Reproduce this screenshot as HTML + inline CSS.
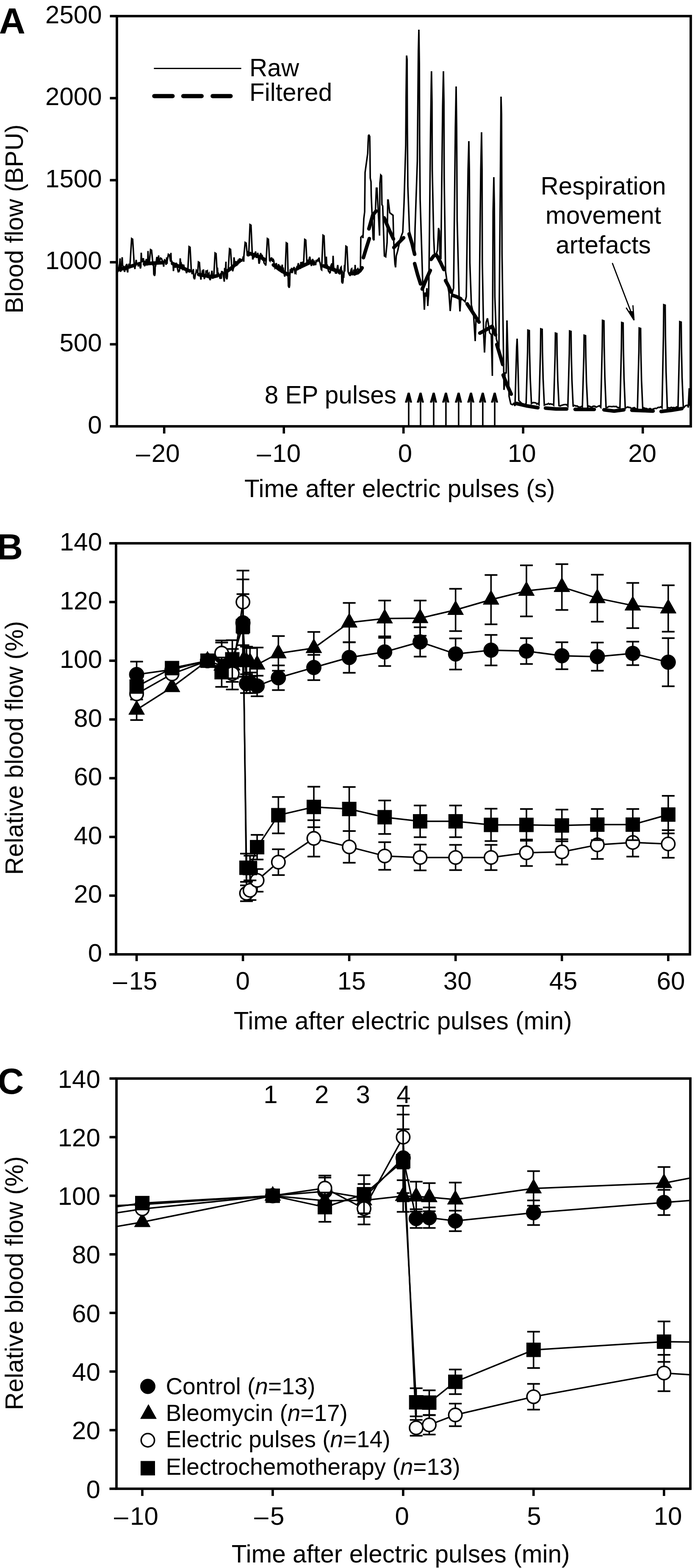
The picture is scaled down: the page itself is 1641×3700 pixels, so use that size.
<!DOCTYPE html>
<html><head><meta charset="utf-8"><title>Blood flow figure</title>
<style>html,body{margin:0;padding:0;background:#fff;} svg{display:block;} text{font-family:'Liberation Sans', Arial, Helvetica, sans-serif;fill:#000;stroke:none;}</style>
</head><body>
<svg width="1641" height="3700" viewBox="0 0 1641 3700" stroke="#000" fill="#000">
<rect x="0" y="0" width="1641" height="3700" fill="#fff" stroke="none"/>
<g id="panelA">
<line x1="259.5" y1="1006" x2="276" y2="1006" stroke-width="5.8" stroke-linecap="butt"/>
<line x1="259.5" y1="812.4" x2="276" y2="812.4" stroke-width="5.8" stroke-linecap="butt"/>
<line x1="259.5" y1="618.8" x2="276" y2="618.8" stroke-width="5.8" stroke-linecap="butt"/>
<line x1="259.5" y1="425.2" x2="276" y2="425.2" stroke-width="5.8" stroke-linecap="butt"/>
<line x1="259.5" y1="231.6" x2="276" y2="231.6" stroke-width="5.8" stroke-linecap="butt"/>
<line x1="259.5" y1="38" x2="276" y2="38" stroke-width="5.8" stroke-linecap="butt"/>
<text x="240.6" y="1022.6" font-size="60" text-anchor="end">0</text>
<text x="240.6" y="829" font-size="60" text-anchor="end">500</text>
<text x="240.6" y="635.4" font-size="60" text-anchor="end">1000</text>
<text x="240.6" y="441.8" font-size="60" text-anchor="end">1500</text>
<text x="240.6" y="248.2" font-size="60" text-anchor="end">2000</text>
<text x="240.6" y="54.6" font-size="60" text-anchor="end">2500</text>
<line x1="387.7" y1="1006" x2="387.7" y2="1023" stroke-width="5.6" stroke-linecap="butt"/>
<line x1="670.2" y1="1006" x2="670.2" y2="1023" stroke-width="5.6" stroke-linecap="butt"/>
<line x1="952.7" y1="1006" x2="952.7" y2="1023" stroke-width="5.6" stroke-linecap="butt"/>
<line x1="1235.2" y1="1006" x2="1235.2" y2="1023" stroke-width="5.6" stroke-linecap="butt"/>
<line x1="1517.7" y1="1006" x2="1517.7" y2="1023" stroke-width="5.6" stroke-linecap="butt"/>
<text x="321" y="1089.5" font-size="60">&#8211;<tspan dx="3.4">20</tspan></text>
<text x="606.5" y="1089.5" font-size="60">&#8211;<tspan dx="3.4">10</tspan></text>
<text x="956.5" y="1089.5" font-size="60" text-anchor="middle">0</text>
<text x="1232.2" y="1089.5" font-size="60" text-anchor="middle">10</text>
<text x="1516.6" y="1089.5" font-size="60" text-anchor="middle">20</text>
<text x="576.9" y="1172.5" font-size="58.6">Time after electric pulses (s)</text>
<text transform="translate(54,516.6) rotate(-90)" font-size="58.6" text-anchor="middle">Blood flow (BPU)</text>
<text x="-2.2" y="79" font-size="86" font-weight="bold">A</text>
<line x1="363.4" y1="161.5" x2="569.6" y2="161.5" stroke-width="3.2" stroke-linecap="butt"/>
<line x1="364.3" y1="226.7" x2="407.5" y2="226.7" stroke-width="10" stroke-linecap="round"/>
<line x1="432.8" y1="226.7" x2="476" y2="226.7" stroke-width="10" stroke-linecap="round"/>
<line x1="502.1" y1="226.7" x2="544.5" y2="226.7" stroke-width="10" stroke-linecap="round"/>
<text x="589.1" y="179.7" font-size="58.5">Raw</text>
<text x="589.1" y="237.9" font-size="58.5">Filtered</text>
<text x="1424.5" y="459.1" font-size="58.5" text-anchor="middle">Respiration</text>
<text x="1424.5" y="528.4" font-size="58.5" text-anchor="middle">movement</text>
<text x="1424.5" y="598.4" font-size="58.5" text-anchor="middle">artefacts</text>
<line x1="1446.1" y1="621.6" x2="1496.5" y2="753.5" stroke-width="2.8" stroke-linecap="round"/>
<polyline points="1479,727 1497,755.5 1494.5,721.5" fill="none" stroke-width="2.8" stroke-linejoin="miter" stroke-linecap="round"/>
<path d="M1497,755.5 L1484,734 L1494.8,735 Z"/>
<text x="624.8" y="952.1" font-size="58.5">8 EP pulses</text>
<line x1="965" y1="1004" x2="965" y2="935" stroke-width="3.6" stroke-linecap="butt"/>
<path d="M963,927 L967,927 L972.5,949.5 L968.4,949.5 L966.5,942 L963.5,942 L961.4,949.5 L956.5,949.5 Z"/>
<line x1="993" y1="1004" x2="993" y2="935" stroke-width="3.6" stroke-linecap="butt"/>
<path d="M991,927 L995,927 L1000.5,949.5 L996.4,949.5 L994.5,942 L991.5,942 L989.4,949.5 L984.5,949.5 Z"/>
<line x1="1024" y1="1004" x2="1024" y2="935" stroke-width="3.6" stroke-linecap="butt"/>
<path d="M1022,927 L1026,927 L1031.5,949.5 L1027.4,949.5 L1025.5,942 L1022.5,942 L1020.4,949.5 L1015.5,949.5 Z"/>
<line x1="1052.9" y1="1004" x2="1052.9" y2="935" stroke-width="3.6" stroke-linecap="butt"/>
<path d="M1050.9,927 L1054.9,927 L1060.4,949.5 L1056.3,949.5 L1054.4,942 L1051.4,942 L1049.3,949.5 L1044.4,949.5 Z"/>
<line x1="1082.9" y1="1004" x2="1082.9" y2="935" stroke-width="3.6" stroke-linecap="butt"/>
<path d="M1080.9,927 L1084.9,927 L1090.4,949.5 L1086.3,949.5 L1084.4,942 L1081.4,942 L1079.3,949.5 L1074.4,949.5 Z"/>
<line x1="1112.1" y1="1004" x2="1112.1" y2="935" stroke-width="3.6" stroke-linecap="butt"/>
<path d="M1110.1,927 L1114.1,927 L1119.6,949.5 L1115.5,949.5 L1113.6,942 L1110.6,942 L1108.5,949.5 L1103.6,949.5 Z"/>
<line x1="1139.9" y1="1004" x2="1139.9" y2="935" stroke-width="3.6" stroke-linecap="butt"/>
<path d="M1137.9,927 L1141.9,927 L1147.4,949.5 L1143.3,949.5 L1141.4,942 L1138.4,942 L1136.3,949.5 L1131.4,949.5 Z"/>
<line x1="1168.1" y1="1004" x2="1168.1" y2="935" stroke-width="3.6" stroke-linecap="butt"/>
<path d="M1166.1,927 L1170.1,927 L1175.6,949.5 L1171.5,949.5 L1169.6,942 L1166.6,942 L1164.5,949.5 L1159.6,949.5 Z"/>
<clipPath id="clipA"><rect x="276" y="38" width="1355" height="968"/></clipPath>
<g clip-path="url(#clipA)">
<polyline fill="none" stroke-width="3.6" stroke-linejoin="miter" stroke-miterlimit="3" points="276.5,634.6 277.5,642.8 278.5,638.9 279.5,630.6 280.5,634.8 281.5,626.6 282.5,622.3 283.5,609.7 284.5,641.1 285.5,639.1 286.5,626.5 287.5,621 288.5,607 289.5,625.4 290.5,628.8 291.5,629.9 292.5,629.5 293.5,639.5 294.5,641.3 295.5,632.1 296.5,637.3 297.5,626.3 298.5,625.5 299.5,622.9 300.5,639 301.5,642.8 302.5,627.3 303.5,632.8 304.5,622.2 305.5,633.5 306.5,622.9 307,624.5 310.8,563 313.2,564.5 317,625.5 317.5,627.9 318.5,634.9 319.5,624.4 320.5,620.4 321.5,613.3 322.5,619.3 323.5,622.7 324.5,621.6 325.5,621.6 326.5,628.8 327.5,618.8 328.5,626.4 329.5,618.2 330.5,628.3 331.5,633.5 332.5,629.4 333.5,596.4 334.5,614.6 335.5,613.3 336.5,619 337.5,613.8 338.5,609.2 339.5,616.1 340.5,620.6 341.5,628.5 342.5,615.4 343.5,623.1 344.5,616.1 345.5,611.2 346.5,623.1 347.5,624.6 348.5,623.9 349.5,592.3 350.5,620.2 351.5,610.9 352.5,614.9 352.7,618.3 355.5,589 357.9,590.5 360.7,619.3 361.5,627.1 362.5,625.3 363.1,647 365.1,651 366.1,645 366.5,626.3 367.5,626.9 368.5,621.6 369.5,612.1 370.5,606.4 371.5,612 372.5,618.9 373.5,620.8 374.5,602.7 375.5,619.9 376.3,617 379.1,609 381.5,610.5 384.3,618 384.5,616.6 385.5,623.8 386.5,629.3 387.5,617.1 388.5,613.1 389.5,613.7 390.5,615.4 391.5,622.9 392.5,624.4 393.5,607.4 394.5,622.7 394.7,616.1 397.5,600 399.9,601.5 402.7,617.1 403.5,596.7 404.5,619.2 405.5,615 406.5,621.2 407.5,622.9 408.5,619.8 409.5,639.7 410.5,629.1 411.5,624.7 412.5,631.4 413.5,628.5 414.5,631.5 415.5,627 416.5,620 417.5,628.4 418.5,630.9 419.5,635.8 420.5,640 421.5,638.7 422.5,640.6 423.5,639.2 424.5,630.4 425.5,609.7 426.5,620.5 427.5,618.6 428.5,629.5 429.5,623.1 430.5,631 431.5,634.5 432.5,632.7 433.5,624.3 434.5,628.7 435.5,635 436.5,634.4 437.5,635.1 438.5,632.2 439.5,640.9 440.5,644.5 441.5,640.3 442.5,632.3 443.5,634.2 443.6,636.2 446.4,582 448.8,583.5 451.6,637.2 452.5,639 453.5,647.1 454.5,640.2 455.5,642.7 456.5,634.9 457.5,655 459.5,659 460.5,653 461.5,646 462.5,644.9 463.5,638.6 464.5,640.2 465.5,640.8 466.5,636.4 466.7,644.9 468.5,618 470.9,619.5 472.7,645.9 473.5,653.9 474.5,659.9 475.5,646.5 476.5,651.2 477.5,641.7 478.5,643.2 479.5,638.4 480.5,635.9 481.5,650.9 482.5,658.5 483.5,653.6 484.5,651.2 485.5,649.9 486.5,637.8 487.5,643.8 488.5,639.9 489.5,639.1 490.5,653.7 491.5,655.8 492.5,646.4 493.5,645 494.5,657 496.5,661 497.5,655 498.5,650.4 499.5,644.5 500.5,638.8 501.5,650.8 502.5,657.7 503.5,652.4 504.5,651.5 505,648.6 507.8,597 510.2,598.5 513,649.6 513.5,631.7 514.5,649.1 515.5,643.4 516.5,648.7 517.5,651.1 518.5,649.8 519.5,657.9 520.5,656.2 521.5,643.9 522.5,658 523.5,639.4 524.5,645.7 525.5,640.7 526.5,643.4 527.5,652.3 528.5,657 529.5,664.6 530.5,632.3 531.5,640.5 532.5,633.9 533.5,617.5 533.8,655 535.8,659 536.8,653 537.5,636.4 538.5,640.1 539.2,632 542,587 544.4,588.5 547.2,633 547.5,634.7 548.5,635.4 549.5,640.1 550.5,635 551.5,632.4 552.5,607.2 553.5,615.8 554.5,622.3 555.5,617.4 556.5,617.6 557.5,619.3 558.5,627.8 559.5,618 560.5,625.1 561.5,623.1 562.5,615 563.5,616.1 564.5,617.5 565.5,609.4 566.5,619.9 567.5,613.9 568.5,612.2 569.5,613.3 570.5,617.5 571.5,613.4 572.5,613 573.5,609.6 574.5,605 575.5,617.6 576,602.3 578.8,572 581.2,573.5 584,603.3 584.5,593.1 585.5,596.9 586.5,592.8 587.5,595.6 590.3,530 592.7,531.5 595.5,596.6 596.5,610.6 597.5,610.6 598.5,601.6 599.5,608.9 600.5,599.8 601.5,597.6 602.5,597.2 603.5,593.4 604.5,603.2 605.5,608.9 606.5,599.5 607.5,608.3 608.5,596.6 609.5,600.8 610.5,611.1 611.5,622.2 612.5,620 613.5,614.1 614.5,601.8 615.5,597 616.5,604.5 617.5,600.4 618.5,604.3 619.5,604.1 620.5,615.2 621.5,612 622.5,615 623.5,620.4 624.5,621.7 625.5,623.1 626.5,623.8 627.5,626.7 628.5,613.4 631.3,563 633.7,564.5 636.5,614.4 637.5,615.7 638.5,608.7 639.5,615.6 640.5,609 641.5,608.9 642.5,610.2 643.5,618 644.5,614.5 645.5,612.9 646.5,615.2 647.5,626.3 648.5,621.6 649.5,632.1 650.5,630.7 651.5,629.2 652.5,620.6 653.5,630.9 654.5,631.3 655.5,627 656.5,632.6 657.5,623.4 658.5,626.1 659.5,634.3 660.5,628.1 661.5,628.4 662.5,639.3 663.5,640.6 664.5,634.6 665.5,629.6 666.5,624.6 667.5,638.5 668.5,631.2 669.5,639.9 670.5,640.1 671.5,649.5 672.5,652.7 673.2,643.5 676,573 678.4,574.5 680.9,675 682.9,679 683.9,673 684.5,646.4 685.5,634.9 686.5,642 687.5,642.5 688.5,631.9 689.5,641.3 690.5,642.2 691.5,637.7 692.5,633.7 693.5,633.2 694.5,630 695.5,637.1 696.5,644.4 697.5,643.5 698.5,644.7 699.5,632 700.5,635.5 701.5,627.5 702.5,635.6 703.5,625.2 704.5,620.9 705.5,634.7 706.5,624.7 707.5,629.3 708.5,634.7 709.5,627.9 710.5,618.2 711.5,626.1 712.5,631.6 713.5,618 714.5,624.9 715.5,617.3 716.5,620.9 716.8,621.6 719.6,565 722,566.5 724.8,622.6 725.5,621.7 726.5,612.7 727.5,617.3 728.5,614.7 729.5,613.7 730.5,608.5 731.5,605.9 732.5,612.2 733.5,616.1 734.5,624.8 735.5,627.5 736.5,615.8 737.5,613.2 738.5,611.2 739.5,621.5 740.5,626.6 741.5,614.4 742.5,625.5 743.5,619.2 744.5,624.3 745.5,624.2 746.5,613.4 747.5,616.7 748.5,616.9 749.5,613.1 750.5,613 751.5,614.4 752.5,609.6 753.5,609.4 754.5,618 755.5,618.9 756.5,624.7 757.5,629 758.5,635.8 759.5,636.7 759.9,624.5 762.7,555 765.1,556.5 767.9,625.5 768.5,618.4 769.5,622.2 770.5,605.6 771.5,626.6 772.5,624.2 773.5,633.2 774.5,634.8 775.5,639.5 776.5,640.9 777.5,640.7 778.5,643.8 779.5,643.4 780.5,638.5 781.5,626.1 782.5,625.7 783.5,621.3 784.5,633.5 785.5,631.1 786.5,603.6 787.5,625.9 788.5,638.9 789.5,636.8 790.5,632.5 791.5,641.8 792.5,645.5 793.5,640.5 794.5,645.8 795.5,635.7 796.5,630.6 797.5,625.4 798.5,635.8 799.5,644.4 800.5,645.3 801.5,645.5 802.5,647.5 803.5,636.1 804.5,631.8 805.5,630.4 806.5,640.4 807,665 809,669 810,663 810.5,642.1 811.5,655.8 812.5,641.1 813.5,625.2 814,640.6 816.8,581 819.2,582.5 822,641.6 822.5,642.5 823.5,645.5 824.5,647.4 825.5,645.7 826.5,651.2 827.5,647.8 828.5,639.4 829.5,635 830.5,634.1 831.5,643.9 832.5,649.1 833.5,646 834.5,646.1 835.5,635.8 836.5,643.5 837.5,650.4 838.5,625.1 839.5,640.3 840,640 845,634 848,641 851,636 852,560 856,556 857,562 859,516 861,500 862,407 868.2,362 869.1,337 870,320 871.2,319 873,322 873.6,362 874.2,420 876,429 876.6,462 881,564 883,567 884.1,502 886.5,496 888.6,444 890.1,444 891.6,471 896.2,556 897,432 899,413 900.8,415 901.8,483 903.6,486 907.6,604 910.7,606 914,572 915.6,472 916.6,472 918.4,486 920.2,502 928,508 929.4,561 931,600 932.5,623 934,631 935.6,604 939,592 945,564 951,548 954,479 958,342 958.8,230 960,131 961.2,140 961.8,300 963,440 966.8,545 970,560 975,575 979,590 980,540 985.4,380 986.6,250 987.8,120 989,70 990.2,150 990.8,330 992,470 996,600 998,665 1000,690 1002,731 1004,690 1006,700 1008,680 1010,722 1012,694 1013,640 1016.7,300 1018.2,200 1018.8,168 1020,240 1020.6,400 1024,560 1026,603 1030,600 1033,590 1035.5,538 1037.5,545 1039,610 1041,610 1045.2,250 1047,168 1048.2,240 1048.8,420 1052,640 1056,668 1060,690 1063,734 1066,700 1068,690 1071,680 1075.2,300 1077,204 1078.2,300 1079.4,520 1084,700 1086,735 1088,705 1094,708 1098,712 1101,700 1105.2,400 1107,333 1108.2,400 1109.4,620 1113,720 1118,740 1122,805 1124,750 1128,755 1131,760 1135.2,400 1137,312 1138.2,400 1138.8,620 1142,790 1144,832 1146,790 1148,760 1151,751 1154,770 1156,785 1160,790 1162.5,887 1164.2,500 1166,418 1167.2,480 1168.4,700 1172,800 1175,810 1178,820 1181.2,450 1183,228 1184.2,270 1185.4,600 1190,920 1192,900 1192.2,880 1195.2,880 1197,756 1198.2,800 1202,935 1206,953 1210,955 1213,952 1216,958 1219.8,820 1221,799 1222.2,830 1225,945 1232,952 1240,955 1242.3,951.3 1244,891 1245.7,830.7 1246.4,779 1249.8,780 1250.4,830.7 1251.9,891 1254.8,952.3 1257.5,950.5 1260,949.9 1262.5,950.2 1265,950.4 1267.5,953.5 1270,952.1 1272.7,955 1274.4,892.4 1276.1,829.7 1276.8,776 1280.2,777 1280.8,829.7 1282.3,892.4 1285.2,956 1287.5,954.9 1290,954 1292.5,953.7 1295,952 1297.5,954 1300,952.9 1302.5,953.9 1305,954.1 1307.3,956.1 1309,896.6 1310.7,837 1311.4,786 1314.8,787 1315.4,837 1316.9,896.6 1319.8,957.1 1322.5,958 1325,956.7 1327.5,956.1 1330,955.2 1332.5,954.8 1335,954.6 1337.5,954.7 1340.8,958.5 1342.5,896.4 1344.2,834.3 1344.9,781 1348.3,782 1348.9,834.3 1350.4,896.4 1353.3,959.5 1355,956.5 1357.5,956.9 1360,958.4 1362.5,957.8 1365,959.9 1367.5,960.3 1370,961.1 1372.5,959.2 1375.1,959.9 1376.8,900.8 1378.5,841.7 1379.2,791 1382.6,792 1383.2,841.7 1384.7,900.8 1387.6,960.9 1390,958.1 1392.5,959 1395,960.1 1397.5,960.8 1400,958.8 1402.5,958.4 1405,958.8 1407.5,960.9 1410,959.6 1412.5,958.7 1415,957.4 1418.5,961.1 1420.2,889.3 1421.9,817.5 1422.6,756 1426,757 1426.6,817.5 1428.1,889.3 1431,962.1 1432.5,961.8 1435,960.9 1437.5,959 1440,959.2 1442.5,959.2 1445,959.7 1447.5,959 1450,959.1 1452.5,959.5 1455,959 1457.5,961.1 1460,962.1 1462.5,961.4 1463.8,962.8 1465.5,892.2 1467.2,821.6 1467.9,761 1471.3,762 1471.9,821.6 1473.4,892.2 1476.3,963.8 1477.5,962.3 1480,961.2 1482.5,960.3 1485,961.6 1487.5,961.3 1490,963.5 1492.5,963.4 1495,962.6 1497.5,961.7 1500,963.7 1502.5,965 1505.1,964.2 1506.8,897.6 1508.5,831.1 1509.2,774 1512.6,775 1513.2,831.1 1514.7,897.6 1517.6,965.2 1520,962.4 1522.5,963.2 1525,963.9 1527.5,964.3 1530,966.2 1532.5,964.8 1535,964 1537.5,965.2 1540,966.9 1542.5,964.7 1545,964.3 1547.5,963.3 1550,964.1 1552.5,962.1 1555,961.2 1557.5,961.5 1560,959.9 1563.1,962.5 1564.8,877.3 1566.5,792.1 1567.2,719 1570.6,720 1571.2,792.1 1572.7,877.3 1575.6,963.5 1577.5,962.1 1580,962.4 1582.5,962.5 1585,961 1587.5,962.3 1590,961.7 1592.5,962 1595,962.5 1597.5,960 1600.9,961.1 1602.6,890.4 1604.3,819.6 1605,759 1608.4,760 1609,819.6 1610.5,890.4 1613.4,962.1 1615,961.7 1617.5,958.3 1620,956.7 1622.5,956.4 1625,958.9 1625,962 1627.4,916 1627.5,957.4 1629,916 1630,957.2 1631,960"/>
<polyline fill="none" stroke-width="8.5" stroke-linecap="round" stroke-linejoin="round" stroke-dasharray="44 23" points="276,637.6 300,631 322.5,624.5 360,621 401,619 443.4,637.6 470,648 501.2,653.4 525,648 543.2,635 570,612 590.5,598.2 615,607 637.8,619.2 660,636 679.8,648.1 705,632 732.4,619.2 760,626 790.2,637.6 826.9,645.5 840,645"/>
<polyline fill="none" stroke-width="8.5" stroke-linecap="round" stroke-linejoin="round" points="844,644 850,639 855,632"/>
<polyline fill="none" stroke-width="8.5" stroke-linecap="round" stroke-linejoin="round" points="858,608 865,585 872,563"/>
<polyline fill="none" stroke-width="8.5" stroke-linecap="round" stroke-linejoin="round" points="871,540 880,508 888,498"/>
<polyline fill="none" stroke-width="8.5" stroke-linecap="round" stroke-linejoin="round" points="907,514 918,540 929,564"/>
<polyline fill="none" stroke-width="8.5" stroke-linecap="round" stroke-linejoin="round" points="930,584 940,574 953,561"/>
<polyline fill="none" stroke-width="8.5" stroke-linecap="round" stroke-linejoin="round" points="966,552 973,575 979,600"/>
<polyline fill="none" stroke-width="8.5" stroke-linecap="round" stroke-linejoin="round" points="979,622 986,648 993,670"/>
<polyline fill="none" stroke-width="8.5" stroke-linecap="round" stroke-linejoin="round" points="997,682 1006,660 1016,638"/>
<polyline fill="none" stroke-width="8.5" stroke-linecap="round" stroke-linejoin="round" points="1018,612 1024,604 1030,601"/>
<polyline fill="none" stroke-width="8.5" stroke-linecap="round" stroke-linejoin="round" points="1032,604 1040,619 1048,636"/>
<polyline fill="none" stroke-width="8.5" stroke-linecap="round" stroke-linejoin="round" points="1052,662 1059,675 1066,690"/>
<polyline fill="none" stroke-width="8.5" stroke-linecap="round" stroke-linejoin="round" points="1069,697 1078,700 1088,705"/>
<polyline fill="none" stroke-width="8.5" stroke-linecap="round" stroke-linejoin="round" points="1103,717 1118,740 1131,760"/>
<polyline fill="none" stroke-width="8.5" stroke-linecap="round" stroke-linejoin="round" points="1133,786 1148,778 1162,770 1170,790"/>
<polyline fill="none" stroke-width="8.5" stroke-linecap="round" stroke-linejoin="round" points="1173,813 1180,836 1187,860"/>
<polyline fill="none" stroke-width="8.5" stroke-linecap="round" stroke-linejoin="round" points="1188,885 1198,910 1207,930"/>
<polyline fill="none" stroke-width="8.5" stroke-linecap="round" stroke-linejoin="round" points="1219,952 1245,958 1270,962"/>
<polyline fill="none" stroke-width="8.5" stroke-linecap="round" stroke-linejoin="round" points="1288,963 1313,965 1338,965"/>
<polyline fill="none" stroke-width="8.5" stroke-linecap="round" stroke-linejoin="round" points="1358,966 1403,966"/>
<polyline fill="none" stroke-width="8.5" stroke-linecap="round" stroke-linejoin="round" points="1426,967 1450,970 1473,967"/>
<polyline fill="none" stroke-width="8.5" stroke-linecap="round" stroke-linejoin="round" points="1492,968 1517,969 1542,970"/>
<polyline fill="none" stroke-width="8.5" stroke-linecap="round" stroke-linejoin="round" points="1561,971 1586,968 1610,964"/>
</g>
<rect x="276" y="38" width="1355" height="968" fill="none" stroke-width="5.8"/>
</g>
<g id="panelB">
<line x1="258" y1="2252" x2="274" y2="2252" stroke-width="5.8" stroke-linecap="butt"/>
<line x1="258" y1="2113.4" x2="274" y2="2113.4" stroke-width="5.8" stroke-linecap="butt"/>
<line x1="258" y1="1974.9" x2="274" y2="1974.9" stroke-width="5.8" stroke-linecap="butt"/>
<line x1="258" y1="1836.3" x2="274" y2="1836.3" stroke-width="5.8" stroke-linecap="butt"/>
<line x1="258" y1="1697.7" x2="274" y2="1697.7" stroke-width="5.8" stroke-linecap="butt"/>
<line x1="258" y1="1559.1" x2="274" y2="1559.1" stroke-width="5.8" stroke-linecap="butt"/>
<line x1="258" y1="1420.6" x2="274" y2="1420.6" stroke-width="5.8" stroke-linecap="butt"/>
<line x1="258" y1="1282" x2="274" y2="1282" stroke-width="5.8" stroke-linecap="butt"/>
<text x="241.1" y="2268.9" font-size="60" text-anchor="end">0</text>
<text x="241.1" y="2130.3" font-size="60" text-anchor="end">20</text>
<text x="241.1" y="1991.8" font-size="60" text-anchor="end">40</text>
<text x="241.1" y="1853.2" font-size="60" text-anchor="end">60</text>
<text x="241.1" y="1714.6" font-size="60" text-anchor="end">80</text>
<text x="241.1" y="1576" font-size="60" text-anchor="end">100</text>
<text x="241.1" y="1437.5" font-size="60" text-anchor="end">120</text>
<text x="241.1" y="1298.9" font-size="60" text-anchor="end">140</text>
<line x1="322.6" y1="2252" x2="322.6" y2="2268" stroke-width="5.6" stroke-linecap="butt"/>
<line x1="573.6" y1="2252" x2="573.6" y2="2268" stroke-width="5.6" stroke-linecap="butt"/>
<line x1="824.6" y1="2252" x2="824.6" y2="2268" stroke-width="5.6" stroke-linecap="butt"/>
<line x1="1075.7" y1="2252" x2="1075.7" y2="2268" stroke-width="5.6" stroke-linecap="butt"/>
<line x1="1326.7" y1="2252" x2="1326.7" y2="2268" stroke-width="5.6" stroke-linecap="butt"/>
<line x1="1577.8" y1="2252" x2="1577.8" y2="2268" stroke-width="5.6" stroke-linecap="butt"/>
<text x="266.8" y="2334.8" font-size="60">&#8211;<tspan dx="4.5">15</tspan></text>
<text x="573.1" y="2334.8" font-size="60" text-anchor="middle">0</text>
<text x="830.2" y="2334.8" font-size="60" text-anchor="middle">15</text>
<text x="1080.2" y="2334.8" font-size="60" text-anchor="middle">30</text>
<text x="1330.1" y="2334.8" font-size="60" text-anchor="middle">45</text>
<text x="1583.9" y="2334.8" font-size="60" text-anchor="middle">60</text>
<text x="551.7" y="2429.4" font-size="58.6">Time after electric pulses (min)</text>
<text transform="translate(54,1764.9) rotate(-90)" font-size="58.6" text-anchor="middle">Relative blood flow (%)</text>
<text x="-8" y="1320" font-size="86" font-weight="bold">B</text>
<polyline fill="none" stroke-width="3.5" stroke-linejoin="round" points="322.6,1674.8 406.2,1621.5 489.9,1559.1 523.4,1570.9 548.5,1570.2 573.6,1559.8 582,1561.2 590.3,1562.6 607.1,1568.2 657.3,1541.8 741,1529.3 824.6,1469.1 908.3,1459.4 992,1458.7 1075.7,1439.3 1159.4,1415 1243,1394.2 1326.7,1385.2 1410.4,1411.6 1494.1,1428.9 1577.8,1435.8"/>
<line x1="322.6" y1="1650.6" x2="322.6" y2="1699.1" stroke-width="3.6" stroke-linecap="butt"/>
<line x1="307.6" y1="1650.6" x2="337.6" y2="1650.6" stroke-width="3.9" stroke-linecap="butt"/>
<line x1="307.6" y1="1699.1" x2="337.6" y2="1699.1" stroke-width="3.9" stroke-linecap="butt"/>
<line x1="523.4" y1="1543.2" x2="523.4" y2="1598.6" stroke-width="3.6" stroke-linecap="butt"/>
<line x1="508.4" y1="1543.2" x2="538.4" y2="1543.2" stroke-width="3.9" stroke-linecap="butt"/>
<line x1="508.4" y1="1598.6" x2="538.4" y2="1598.6" stroke-width="3.9" stroke-linecap="butt"/>
<line x1="548.5" y1="1531.4" x2="548.5" y2="1609" stroke-width="3.6" stroke-linecap="butt"/>
<line x1="533.5" y1="1531.4" x2="563.5" y2="1531.4" stroke-width="3.9" stroke-linecap="butt"/>
<line x1="533.5" y1="1609" x2="563.5" y2="1609" stroke-width="3.9" stroke-linecap="butt"/>
<line x1="573.6" y1="1522.4" x2="573.6" y2="1597.2" stroke-width="3.6" stroke-linecap="butt"/>
<line x1="558.6" y1="1522.4" x2="588.6" y2="1522.4" stroke-width="3.9" stroke-linecap="butt"/>
<line x1="558.6" y1="1597.2" x2="588.6" y2="1597.2" stroke-width="3.9" stroke-linecap="butt"/>
<line x1="582" y1="1525.9" x2="582" y2="1596.6" stroke-width="3.6" stroke-linecap="butt"/>
<line x1="567" y1="1525.9" x2="597" y2="1525.9" stroke-width="3.9" stroke-linecap="butt"/>
<line x1="567" y1="1596.6" x2="597" y2="1596.6" stroke-width="3.9" stroke-linecap="butt"/>
<line x1="590.3" y1="1529.3" x2="590.3" y2="1595.9" stroke-width="3.6" stroke-linecap="butt"/>
<line x1="575.3" y1="1529.3" x2="605.3" y2="1529.3" stroke-width="3.9" stroke-linecap="butt"/>
<line x1="575.3" y1="1595.9" x2="605.3" y2="1595.9" stroke-width="3.9" stroke-linecap="butt"/>
<line x1="607.1" y1="1528" x2="607.1" y2="1608.3" stroke-width="3.6" stroke-linecap="butt"/>
<line x1="592.1" y1="1528" x2="622.1" y2="1528" stroke-width="3.9" stroke-linecap="butt"/>
<line x1="592.1" y1="1608.3" x2="622.1" y2="1608.3" stroke-width="3.9" stroke-linecap="butt"/>
<line x1="657.3" y1="1500.9" x2="657.3" y2="1582.7" stroke-width="3.6" stroke-linecap="butt"/>
<line x1="642.3" y1="1500.9" x2="672.3" y2="1500.9" stroke-width="3.9" stroke-linecap="butt"/>
<line x1="642.3" y1="1582.7" x2="672.3" y2="1582.7" stroke-width="3.9" stroke-linecap="butt"/>
<line x1="741" y1="1491.2" x2="741" y2="1567.5" stroke-width="3.6" stroke-linecap="butt"/>
<line x1="726" y1="1491.2" x2="756" y2="1491.2" stroke-width="3.9" stroke-linecap="butt"/>
<line x1="726" y1="1567.5" x2="756" y2="1567.5" stroke-width="3.9" stroke-linecap="butt"/>
<line x1="824.6" y1="1422.7" x2="824.6" y2="1515.5" stroke-width="3.6" stroke-linecap="butt"/>
<line x1="809.6" y1="1422.7" x2="839.6" y2="1422.7" stroke-width="3.9" stroke-linecap="butt"/>
<line x1="809.6" y1="1515.5" x2="839.6" y2="1515.5" stroke-width="3.9" stroke-linecap="butt"/>
<line x1="908.3" y1="1417.1" x2="908.3" y2="1501.6" stroke-width="3.6" stroke-linecap="butt"/>
<line x1="893.3" y1="1417.1" x2="923.3" y2="1417.1" stroke-width="3.9" stroke-linecap="butt"/>
<line x1="893.3" y1="1501.6" x2="923.3" y2="1501.6" stroke-width="3.9" stroke-linecap="butt"/>
<line x1="992" y1="1417.1" x2="992" y2="1500.2" stroke-width="3.6" stroke-linecap="butt"/>
<line x1="977" y1="1417.1" x2="1007" y2="1417.1" stroke-width="3.9" stroke-linecap="butt"/>
<line x1="977" y1="1500.2" x2="1007" y2="1500.2" stroke-width="3.9" stroke-linecap="butt"/>
<line x1="1075.7" y1="1389.4" x2="1075.7" y2="1489.2" stroke-width="3.6" stroke-linecap="butt"/>
<line x1="1060.7" y1="1389.4" x2="1090.7" y2="1389.4" stroke-width="3.9" stroke-linecap="butt"/>
<line x1="1060.7" y1="1489.2" x2="1090.7" y2="1489.2" stroke-width="3.9" stroke-linecap="butt"/>
<line x1="1159.4" y1="1356.8" x2="1159.4" y2="1473.2" stroke-width="3.6" stroke-linecap="butt"/>
<line x1="1144.4" y1="1356.8" x2="1174.4" y2="1356.8" stroke-width="3.9" stroke-linecap="butt"/>
<line x1="1144.4" y1="1473.2" x2="1174.4" y2="1473.2" stroke-width="3.9" stroke-linecap="butt"/>
<line x1="1243" y1="1334" x2="1243" y2="1454.5" stroke-width="3.6" stroke-linecap="butt"/>
<line x1="1228" y1="1334" x2="1258" y2="1334" stroke-width="3.9" stroke-linecap="butt"/>
<line x1="1228" y1="1454.5" x2="1258" y2="1454.5" stroke-width="3.9" stroke-linecap="butt"/>
<line x1="1326.7" y1="1331.2" x2="1326.7" y2="1439.3" stroke-width="3.6" stroke-linecap="butt"/>
<line x1="1311.7" y1="1331.2" x2="1341.7" y2="1331.2" stroke-width="3.9" stroke-linecap="butt"/>
<line x1="1311.7" y1="1439.3" x2="1341.7" y2="1439.3" stroke-width="3.9" stroke-linecap="butt"/>
<line x1="1410.4" y1="1356.1" x2="1410.4" y2="1467" stroke-width="3.6" stroke-linecap="butt"/>
<line x1="1395.4" y1="1356.1" x2="1425.4" y2="1356.1" stroke-width="3.9" stroke-linecap="butt"/>
<line x1="1395.4" y1="1467" x2="1425.4" y2="1467" stroke-width="3.9" stroke-linecap="butt"/>
<line x1="1494.1" y1="1375.5" x2="1494.1" y2="1482.2" stroke-width="3.6" stroke-linecap="butt"/>
<line x1="1479.1" y1="1375.5" x2="1509.1" y2="1375.5" stroke-width="3.9" stroke-linecap="butt"/>
<line x1="1479.1" y1="1482.2" x2="1509.1" y2="1482.2" stroke-width="3.9" stroke-linecap="butt"/>
<line x1="1577.8" y1="1381.1" x2="1577.8" y2="1490.6" stroke-width="3.6" stroke-linecap="butt"/>
<line x1="1562.8" y1="1381.1" x2="1592.8" y2="1381.1" stroke-width="3.9" stroke-linecap="butt"/>
<line x1="1562.8" y1="1490.6" x2="1592.8" y2="1490.6" stroke-width="3.9" stroke-linecap="butt"/>
<path d="M322.6,1652.4 L341.4,1686 L303.8,1686 Z"/>
<path d="M406.2,1599.1 L425,1632.7 L387.4,1632.7 Z"/>
<path d="M489.9,1536.7 L508.7,1570.3 L471.1,1570.3 Z"/>
<path d="M523.4,1548.5 L542.2,1582.1 L504.6,1582.1 Z"/>
<path d="M548.5,1547.8 L567.3,1581.4 L529.7,1581.4 Z"/>
<path d="M573.6,1537.4 L592.4,1571 L554.8,1571 Z"/>
<path d="M582,1538.8 L600.8,1572.4 L563.2,1572.4 Z"/>
<path d="M590.3,1540.2 L609.1,1573.8 L571.5,1573.8 Z"/>
<path d="M607.1,1545.8 L625.9,1579.4 L588.3,1579.4 Z"/>
<path d="M657.3,1519.4 L676.1,1553 L638.5,1553 Z"/>
<path d="M741,1506.9 L759.8,1540.5 L722.2,1540.5 Z"/>
<path d="M824.6,1446.7 L843.4,1480.3 L805.8,1480.3 Z"/>
<path d="M908.3,1437 L927.1,1470.6 L889.5,1470.6 Z"/>
<path d="M992,1436.3 L1010.8,1469.9 L973.2,1469.9 Z"/>
<path d="M1075.7,1416.9 L1094.5,1450.5 L1056.9,1450.5 Z"/>
<path d="M1159.4,1392.6 L1178.2,1426.2 L1140.6,1426.2 Z"/>
<path d="M1243,1371.8 L1261.8,1405.4 L1224.2,1405.4 Z"/>
<path d="M1326.7,1362.8 L1345.5,1396.4 L1307.9,1396.4 Z"/>
<path d="M1410.4,1389.2 L1429.2,1422.8 L1391.6,1422.8 Z"/>
<path d="M1494.1,1406.5 L1512.9,1440.1 L1475.3,1440.1 Z"/>
<path d="M1577.8,1413.4 L1596.6,1447 L1559,1447 Z"/>
<polyline fill="none" stroke-width="3.5" stroke-linejoin="round" points="322.6,1591.7 406.2,1579.9 489.9,1559.1 523.4,1548.8 548.5,1564 573.6,1469.8 582,1613.2 590.3,1611.1 607.1,1618.7 657.3,1599.3 741,1575.1 824.6,1551.5 908.3,1538.4 992,1514.8 1075.7,1543.2 1159.4,1534.2 1243,1536.3 1326.7,1547.4 1410.4,1549.4 1494.1,1541.8 1577.8,1562.6"/>
<line x1="322.6" y1="1561.2" x2="322.6" y2="1622.2" stroke-width="3.6" stroke-linecap="butt"/>
<line x1="307.6" y1="1561.2" x2="337.6" y2="1561.2" stroke-width="3.9" stroke-linecap="butt"/>
<line x1="307.6" y1="1622.2" x2="337.6" y2="1622.2" stroke-width="3.9" stroke-linecap="butt"/>
<line x1="523.4" y1="1516.2" x2="523.4" y2="1581.3" stroke-width="3.6" stroke-linecap="butt"/>
<line x1="508.4" y1="1516.2" x2="538.4" y2="1516.2" stroke-width="3.9" stroke-linecap="butt"/>
<line x1="508.4" y1="1581.3" x2="538.4" y2="1581.3" stroke-width="3.9" stroke-linecap="butt"/>
<line x1="573.6" y1="1367.2" x2="573.6" y2="1572.3" stroke-width="3.6" stroke-linecap="butt"/>
<line x1="558.6" y1="1367.2" x2="588.6" y2="1367.2" stroke-width="3.9" stroke-linecap="butt"/>
<line x1="558.6" y1="1572.3" x2="588.6" y2="1572.3" stroke-width="3.9" stroke-linecap="butt"/>
<line x1="582" y1="1591" x2="582" y2="1635.4" stroke-width="3.6" stroke-linecap="butt"/>
<line x1="567" y1="1591" x2="597" y2="1591" stroke-width="3.9" stroke-linecap="butt"/>
<line x1="567" y1="1635.4" x2="597" y2="1635.4" stroke-width="3.9" stroke-linecap="butt"/>
<line x1="590.3" y1="1586.9" x2="590.3" y2="1635.4" stroke-width="3.6" stroke-linecap="butt"/>
<line x1="575.3" y1="1586.9" x2="605.3" y2="1586.9" stroke-width="3.9" stroke-linecap="butt"/>
<line x1="575.3" y1="1635.4" x2="605.3" y2="1635.4" stroke-width="3.9" stroke-linecap="butt"/>
<line x1="607.1" y1="1594.5" x2="607.1" y2="1643" stroke-width="3.6" stroke-linecap="butt"/>
<line x1="592.1" y1="1594.5" x2="622.1" y2="1594.5" stroke-width="3.9" stroke-linecap="butt"/>
<line x1="592.1" y1="1643" x2="622.1" y2="1643" stroke-width="3.9" stroke-linecap="butt"/>
<line x1="657.3" y1="1570.2" x2="657.3" y2="1628.4" stroke-width="3.6" stroke-linecap="butt"/>
<line x1="642.3" y1="1570.2" x2="672.3" y2="1570.2" stroke-width="3.9" stroke-linecap="butt"/>
<line x1="642.3" y1="1628.4" x2="672.3" y2="1628.4" stroke-width="3.9" stroke-linecap="butt"/>
<line x1="741" y1="1545.3" x2="741" y2="1604.9" stroke-width="3.6" stroke-linecap="butt"/>
<line x1="726" y1="1545.3" x2="756" y2="1545.3" stroke-width="3.9" stroke-linecap="butt"/>
<line x1="726" y1="1604.9" x2="756" y2="1604.9" stroke-width="3.9" stroke-linecap="butt"/>
<line x1="824.6" y1="1515.5" x2="824.6" y2="1587.6" stroke-width="3.6" stroke-linecap="butt"/>
<line x1="809.6" y1="1515.5" x2="839.6" y2="1515.5" stroke-width="3.9" stroke-linecap="butt"/>
<line x1="809.6" y1="1587.6" x2="839.6" y2="1587.6" stroke-width="3.9" stroke-linecap="butt"/>
<line x1="908.3" y1="1505.1" x2="908.3" y2="1571.6" stroke-width="3.6" stroke-linecap="butt"/>
<line x1="893.3" y1="1505.1" x2="923.3" y2="1505.1" stroke-width="3.9" stroke-linecap="butt"/>
<line x1="893.3" y1="1571.6" x2="923.3" y2="1571.6" stroke-width="3.9" stroke-linecap="butt"/>
<line x1="992" y1="1480.2" x2="992" y2="1549.4" stroke-width="3.6" stroke-linecap="butt"/>
<line x1="977" y1="1480.2" x2="1007" y2="1480.2" stroke-width="3.9" stroke-linecap="butt"/>
<line x1="977" y1="1549.4" x2="1007" y2="1549.4" stroke-width="3.9" stroke-linecap="butt"/>
<line x1="1075.7" y1="1506.5" x2="1075.7" y2="1579.9" stroke-width="3.6" stroke-linecap="butt"/>
<line x1="1060.7" y1="1506.5" x2="1090.7" y2="1506.5" stroke-width="3.9" stroke-linecap="butt"/>
<line x1="1060.7" y1="1579.9" x2="1090.7" y2="1579.9" stroke-width="3.9" stroke-linecap="butt"/>
<line x1="1159.4" y1="1498.2" x2="1159.4" y2="1570.2" stroke-width="3.6" stroke-linecap="butt"/>
<line x1="1144.4" y1="1498.2" x2="1174.4" y2="1498.2" stroke-width="3.9" stroke-linecap="butt"/>
<line x1="1144.4" y1="1570.2" x2="1174.4" y2="1570.2" stroke-width="3.9" stroke-linecap="butt"/>
<line x1="1243" y1="1505.8" x2="1243" y2="1566.8" stroke-width="3.6" stroke-linecap="butt"/>
<line x1="1228" y1="1505.8" x2="1258" y2="1505.8" stroke-width="3.9" stroke-linecap="butt"/>
<line x1="1228" y1="1566.8" x2="1258" y2="1566.8" stroke-width="3.9" stroke-linecap="butt"/>
<line x1="1326.7" y1="1515.5" x2="1326.7" y2="1579.2" stroke-width="3.6" stroke-linecap="butt"/>
<line x1="1311.7" y1="1515.5" x2="1341.7" y2="1515.5" stroke-width="3.9" stroke-linecap="butt"/>
<line x1="1311.7" y1="1579.2" x2="1341.7" y2="1579.2" stroke-width="3.9" stroke-linecap="butt"/>
<line x1="1410.4" y1="1516.2" x2="1410.4" y2="1582.7" stroke-width="3.6" stroke-linecap="butt"/>
<line x1="1395.4" y1="1516.2" x2="1425.4" y2="1516.2" stroke-width="3.9" stroke-linecap="butt"/>
<line x1="1395.4" y1="1582.7" x2="1425.4" y2="1582.7" stroke-width="3.9" stroke-linecap="butt"/>
<line x1="1494.1" y1="1514.1" x2="1494.1" y2="1569.5" stroke-width="3.6" stroke-linecap="butt"/>
<line x1="1479.1" y1="1514.1" x2="1509.1" y2="1514.1" stroke-width="3.9" stroke-linecap="butt"/>
<line x1="1479.1" y1="1569.5" x2="1509.1" y2="1569.5" stroke-width="3.9" stroke-linecap="butt"/>
<line x1="1577.8" y1="1505.8" x2="1577.8" y2="1619.4" stroke-width="3.6" stroke-linecap="butt"/>
<line x1="1562.8" y1="1505.8" x2="1592.8" y2="1505.8" stroke-width="3.9" stroke-linecap="butt"/>
<line x1="1562.8" y1="1619.4" x2="1592.8" y2="1619.4" stroke-width="3.9" stroke-linecap="butt"/>
<circle cx="322.6" cy="1591.7" r="17.5"/>
<circle cx="406.2" cy="1579.9" r="17.5"/>
<circle cx="489.9" cy="1559.1" r="17.5"/>
<circle cx="523.4" cy="1548.8" r="17.5"/>
<circle cx="548.5" cy="1564" r="17.5"/>
<circle cx="573.6" cy="1469.8" r="17.5"/>
<circle cx="582" cy="1613.2" r="17.5"/>
<circle cx="590.3" cy="1611.1" r="17.5"/>
<circle cx="607.1" cy="1618.7" r="17.5"/>
<circle cx="657.3" cy="1599.3" r="17.5"/>
<circle cx="741" cy="1575.1" r="17.5"/>
<circle cx="824.6" cy="1551.5" r="17.5"/>
<circle cx="908.3" cy="1538.4" r="17.5"/>
<circle cx="992" cy="1514.8" r="17.5"/>
<circle cx="1075.7" cy="1543.2" r="17.5"/>
<circle cx="1159.4" cy="1534.2" r="17.5"/>
<circle cx="1243" cy="1536.3" r="17.5"/>
<circle cx="1326.7" cy="1547.4" r="17.5"/>
<circle cx="1410.4" cy="1549.4" r="17.5"/>
<circle cx="1494.1" cy="1541.8" r="17.5"/>
<circle cx="1577.8" cy="1562.6" r="17.5"/>
<polyline fill="none" stroke-width="3.5" stroke-linejoin="round" points="322.6,1637.4 406.2,1590.3 489.9,1559.1 523.4,1541.1 548.5,1589.6 573.6,1420.6 582,2107.9 590.3,2101 607.1,2077.4 657.3,2034.4 741,1978.3 824.6,1998.4 908.3,2019.9 992,2023.4 1075.7,2023.4 1159.4,2023.4 1243,2012.3 1326.7,2010.2 1410.4,1993.6 1494.1,1988 1577.8,1991.5"/>
<line x1="523.4" y1="1511.3" x2="523.4" y2="1570.9" stroke-width="3.6" stroke-linecap="butt"/>
<line x1="508.4" y1="1511.3" x2="538.4" y2="1511.3" stroke-width="3.9" stroke-linecap="butt"/>
<line x1="508.4" y1="1570.9" x2="538.4" y2="1570.9" stroke-width="3.9" stroke-linecap="butt"/>
<line x1="548.5" y1="1552.2" x2="548.5" y2="1627" stroke-width="3.6" stroke-linecap="butt"/>
<line x1="533.5" y1="1552.2" x2="563.5" y2="1552.2" stroke-width="3.9" stroke-linecap="butt"/>
<line x1="533.5" y1="1627" x2="563.5" y2="1627" stroke-width="3.9" stroke-linecap="butt"/>
<line x1="573.6" y1="1346.4" x2="573.6" y2="1494.7" stroke-width="3.6" stroke-linecap="butt"/>
<line x1="558.6" y1="1346.4" x2="588.6" y2="1346.4" stroke-width="3.9" stroke-linecap="butt"/>
<line x1="558.6" y1="1494.7" x2="588.6" y2="1494.7" stroke-width="3.9" stroke-linecap="butt"/>
<line x1="582" y1="2089.2" x2="582" y2="2126.6" stroke-width="3.6" stroke-linecap="butt"/>
<line x1="567" y1="2089.2" x2="597" y2="2089.2" stroke-width="3.9" stroke-linecap="butt"/>
<line x1="567" y1="2126.6" x2="597" y2="2126.6" stroke-width="3.9" stroke-linecap="butt"/>
<line x1="590.3" y1="2078.1" x2="590.3" y2="2123.8" stroke-width="3.6" stroke-linecap="butt"/>
<line x1="575.3" y1="2078.1" x2="605.3" y2="2078.1" stroke-width="3.9" stroke-linecap="butt"/>
<line x1="575.3" y1="2123.8" x2="605.3" y2="2123.8" stroke-width="3.9" stroke-linecap="butt"/>
<line x1="607.1" y1="2050.7" x2="607.1" y2="2104.1" stroke-width="3.6" stroke-linecap="butt"/>
<line x1="592.1" y1="2050.7" x2="622.1" y2="2050.7" stroke-width="3.9" stroke-linecap="butt"/>
<line x1="592.1" y1="2104.1" x2="622.1" y2="2104.1" stroke-width="3.9" stroke-linecap="butt"/>
<line x1="657.3" y1="2004" x2="657.3" y2="2064.9" stroke-width="3.6" stroke-linecap="butt"/>
<line x1="642.3" y1="2004" x2="672.3" y2="2004" stroke-width="3.9" stroke-linecap="butt"/>
<line x1="642.3" y1="2064.9" x2="672.3" y2="2064.9" stroke-width="3.9" stroke-linecap="butt"/>
<line x1="741" y1="1935.4" x2="741" y2="2021.3" stroke-width="3.6" stroke-linecap="butt"/>
<line x1="726" y1="1935.4" x2="756" y2="1935.4" stroke-width="3.9" stroke-linecap="butt"/>
<line x1="726" y1="2021.3" x2="756" y2="2021.3" stroke-width="3.9" stroke-linecap="butt"/>
<line x1="824.6" y1="1961" x2="824.6" y2="2035.8" stroke-width="3.6" stroke-linecap="butt"/>
<line x1="809.6" y1="1961" x2="839.6" y2="1961" stroke-width="3.9" stroke-linecap="butt"/>
<line x1="809.6" y1="2035.8" x2="839.6" y2="2035.8" stroke-width="3.9" stroke-linecap="butt"/>
<line x1="908.3" y1="1987.3" x2="908.3" y2="2052.5" stroke-width="3.6" stroke-linecap="butt"/>
<line x1="893.3" y1="1987.3" x2="923.3" y2="1987.3" stroke-width="3.9" stroke-linecap="butt"/>
<line x1="893.3" y1="2052.5" x2="923.3" y2="2052.5" stroke-width="3.9" stroke-linecap="butt"/>
<line x1="992" y1="1992.9" x2="992" y2="2053.8" stroke-width="3.6" stroke-linecap="butt"/>
<line x1="977" y1="1992.9" x2="1007" y2="1992.9" stroke-width="3.9" stroke-linecap="butt"/>
<line x1="977" y1="2053.8" x2="1007" y2="2053.8" stroke-width="3.9" stroke-linecap="butt"/>
<line x1="1075.7" y1="1993.6" x2="1075.7" y2="2053.2" stroke-width="3.6" stroke-linecap="butt"/>
<line x1="1060.7" y1="1993.6" x2="1090.7" y2="1993.6" stroke-width="3.9" stroke-linecap="butt"/>
<line x1="1060.7" y1="2053.2" x2="1090.7" y2="2053.2" stroke-width="3.9" stroke-linecap="butt"/>
<line x1="1159.4" y1="1993.6" x2="1159.4" y2="2053.2" stroke-width="3.6" stroke-linecap="butt"/>
<line x1="1144.4" y1="1993.6" x2="1174.4" y2="1993.6" stroke-width="3.9" stroke-linecap="butt"/>
<line x1="1144.4" y1="2053.2" x2="1174.4" y2="2053.2" stroke-width="3.9" stroke-linecap="butt"/>
<line x1="1243" y1="1981.1" x2="1243" y2="2043.5" stroke-width="3.6" stroke-linecap="butt"/>
<line x1="1228" y1="1981.1" x2="1258" y2="1981.1" stroke-width="3.9" stroke-linecap="butt"/>
<line x1="1228" y1="2043.5" x2="1258" y2="2043.5" stroke-width="3.9" stroke-linecap="butt"/>
<line x1="1326.7" y1="1980.4" x2="1326.7" y2="2040" stroke-width="3.6" stroke-linecap="butt"/>
<line x1="1311.7" y1="1980.4" x2="1341.7" y2="1980.4" stroke-width="3.9" stroke-linecap="butt"/>
<line x1="1311.7" y1="2040" x2="1341.7" y2="2040" stroke-width="3.9" stroke-linecap="butt"/>
<line x1="1410.4" y1="1960.3" x2="1410.4" y2="2026.8" stroke-width="3.6" stroke-linecap="butt"/>
<line x1="1395.4" y1="1960.3" x2="1425.4" y2="1960.3" stroke-width="3.9" stroke-linecap="butt"/>
<line x1="1395.4" y1="2026.8" x2="1425.4" y2="2026.8" stroke-width="3.9" stroke-linecap="butt"/>
<line x1="1494.1" y1="1954.8" x2="1494.1" y2="2021.3" stroke-width="3.6" stroke-linecap="butt"/>
<line x1="1479.1" y1="1954.8" x2="1509.1" y2="1954.8" stroke-width="3.9" stroke-linecap="butt"/>
<line x1="1479.1" y1="2021.3" x2="1509.1" y2="2021.3" stroke-width="3.9" stroke-linecap="butt"/>
<line x1="1577.8" y1="1958.9" x2="1577.8" y2="2024" stroke-width="3.6" stroke-linecap="butt"/>
<line x1="1562.8" y1="1958.9" x2="1592.8" y2="1958.9" stroke-width="3.9" stroke-linecap="butt"/>
<line x1="1562.8" y1="2024" x2="1592.8" y2="2024" stroke-width="3.9" stroke-linecap="butt"/>
<circle cx="322.6" cy="1637.4" r="15.7" fill="#fff" stroke-width="3.6"/>
<circle cx="406.2" cy="1590.3" r="15.7" fill="#fff" stroke-width="3.6"/>
<circle cx="489.9" cy="1559.1" r="15.7" fill="#fff" stroke-width="3.6"/>
<circle cx="523.4" cy="1541.1" r="15.7" fill="#fff" stroke-width="3.6"/>
<circle cx="548.5" cy="1589.6" r="15.7" fill="#fff" stroke-width="3.6"/>
<circle cx="573.6" cy="1420.6" r="15.7" fill="#fff" stroke-width="3.6"/>
<circle cx="582" cy="2107.9" r="15.7" fill="#fff" stroke-width="3.6"/>
<circle cx="590.3" cy="2101" r="15.7" fill="#fff" stroke-width="3.6"/>
<circle cx="607.1" cy="2077.4" r="15.7" fill="#fff" stroke-width="3.6"/>
<circle cx="657.3" cy="2034.4" r="15.7" fill="#fff" stroke-width="3.6"/>
<circle cx="741" cy="1978.3" r="15.7" fill="#fff" stroke-width="3.6"/>
<circle cx="824.6" cy="1998.4" r="15.7" fill="#fff" stroke-width="3.6"/>
<circle cx="908.3" cy="2019.9" r="15.7" fill="#fff" stroke-width="3.6"/>
<circle cx="992" cy="2023.4" r="15.7" fill="#fff" stroke-width="3.6"/>
<circle cx="1075.7" cy="2023.4" r="15.7" fill="#fff" stroke-width="3.6"/>
<circle cx="1159.4" cy="2023.4" r="15.7" fill="#fff" stroke-width="3.6"/>
<circle cx="1243" cy="2012.3" r="15.7" fill="#fff" stroke-width="3.6"/>
<circle cx="1326.7" cy="2010.2" r="15.7" fill="#fff" stroke-width="3.6"/>
<circle cx="1410.4" cy="1993.6" r="15.7" fill="#fff" stroke-width="3.6"/>
<circle cx="1494.1" cy="1988" r="15.7" fill="#fff" stroke-width="3.6"/>
<circle cx="1577.8" cy="1991.5" r="15.7" fill="#fff" stroke-width="3.6"/>
<polyline fill="none" stroke-width="3.5" stroke-linejoin="round" points="322.6,1620.1 406.2,1576.5 489.9,1559.1 523.4,1586.2 548.5,1555.7 573.6,1477.4 582,2047.6 590.3,2048.3 607.1,1999.1 657.3,1923.6 741,1904.2 824.6,1909 908.3,1928.4 992,1938.1 1075.7,1938.1 1159.4,1946.5 1243,1946.5 1326.7,1947.8 1410.4,1945.8 1494.1,1945.8 1577.8,1922.2"/>
<line x1="523.4" y1="1551.5" x2="523.4" y2="1620.8" stroke-width="3.6" stroke-linecap="butt"/>
<line x1="508.4" y1="1551.5" x2="538.4" y2="1551.5" stroke-width="3.9" stroke-linecap="butt"/>
<line x1="508.4" y1="1620.8" x2="538.4" y2="1620.8" stroke-width="3.9" stroke-linecap="butt"/>
<line x1="548.5" y1="1510.6" x2="548.5" y2="1600.7" stroke-width="3.6" stroke-linecap="butt"/>
<line x1="533.5" y1="1510.6" x2="563.5" y2="1510.6" stroke-width="3.9" stroke-linecap="butt"/>
<line x1="533.5" y1="1600.7" x2="563.5" y2="1600.7" stroke-width="3.9" stroke-linecap="butt"/>
<line x1="573.6" y1="1401.9" x2="573.6" y2="1552.9" stroke-width="3.6" stroke-linecap="butt"/>
<line x1="558.6" y1="1401.9" x2="588.6" y2="1401.9" stroke-width="3.9" stroke-linecap="butt"/>
<line x1="558.6" y1="1552.9" x2="588.6" y2="1552.9" stroke-width="3.9" stroke-linecap="butt"/>
<line x1="582" y1="2014.3" x2="582" y2="2080.9" stroke-width="3.6" stroke-linecap="butt"/>
<line x1="567" y1="2014.3" x2="597" y2="2014.3" stroke-width="3.9" stroke-linecap="butt"/>
<line x1="567" y1="2080.9" x2="597" y2="2080.9" stroke-width="3.9" stroke-linecap="butt"/>
<line x1="590.3" y1="2019.2" x2="590.3" y2="2077.4" stroke-width="3.6" stroke-linecap="butt"/>
<line x1="575.3" y1="2019.2" x2="605.3" y2="2019.2" stroke-width="3.9" stroke-linecap="butt"/>
<line x1="575.3" y1="2077.4" x2="605.3" y2="2077.4" stroke-width="3.9" stroke-linecap="butt"/>
<line x1="607.1" y1="1970" x2="607.1" y2="2028.2" stroke-width="3.6" stroke-linecap="butt"/>
<line x1="592.1" y1="1970" x2="622.1" y2="1970" stroke-width="3.9" stroke-linecap="butt"/>
<line x1="592.1" y1="2028.2" x2="622.1" y2="2028.2" stroke-width="3.9" stroke-linecap="butt"/>
<line x1="657.3" y1="1880.6" x2="657.3" y2="1966.5" stroke-width="3.6" stroke-linecap="butt"/>
<line x1="642.3" y1="1880.6" x2="672.3" y2="1880.6" stroke-width="3.9" stroke-linecap="butt"/>
<line x1="642.3" y1="1966.5" x2="672.3" y2="1966.5" stroke-width="3.9" stroke-linecap="butt"/>
<line x1="741" y1="1856.4" x2="741" y2="1952" stroke-width="3.6" stroke-linecap="butt"/>
<line x1="726" y1="1856.4" x2="756" y2="1856.4" stroke-width="3.9" stroke-linecap="butt"/>
<line x1="726" y1="1952" x2="756" y2="1952" stroke-width="3.9" stroke-linecap="butt"/>
<line x1="824.6" y1="1857.1" x2="824.6" y2="1961" stroke-width="3.6" stroke-linecap="butt"/>
<line x1="809.6" y1="1857.1" x2="839.6" y2="1857.1" stroke-width="3.9" stroke-linecap="butt"/>
<line x1="809.6" y1="1961" x2="839.6" y2="1961" stroke-width="3.9" stroke-linecap="butt"/>
<line x1="908.3" y1="1888.9" x2="908.3" y2="1967.9" stroke-width="3.6" stroke-linecap="butt"/>
<line x1="893.3" y1="1888.9" x2="923.3" y2="1888.9" stroke-width="3.9" stroke-linecap="butt"/>
<line x1="893.3" y1="1967.9" x2="923.3" y2="1967.9" stroke-width="3.9" stroke-linecap="butt"/>
<line x1="992" y1="1900.7" x2="992" y2="1975.5" stroke-width="3.6" stroke-linecap="butt"/>
<line x1="977" y1="1900.7" x2="1007" y2="1900.7" stroke-width="3.9" stroke-linecap="butt"/>
<line x1="977" y1="1975.5" x2="1007" y2="1975.5" stroke-width="3.9" stroke-linecap="butt"/>
<line x1="1075.7" y1="1900.7" x2="1075.7" y2="1975.5" stroke-width="3.6" stroke-linecap="butt"/>
<line x1="1060.7" y1="1900.7" x2="1090.7" y2="1900.7" stroke-width="3.9" stroke-linecap="butt"/>
<line x1="1060.7" y1="1975.5" x2="1090.7" y2="1975.5" stroke-width="3.9" stroke-linecap="butt"/>
<line x1="1159.4" y1="1908.3" x2="1159.4" y2="1984.6" stroke-width="3.6" stroke-linecap="butt"/>
<line x1="1144.4" y1="1908.3" x2="1174.4" y2="1908.3" stroke-width="3.9" stroke-linecap="butt"/>
<line x1="1144.4" y1="1984.6" x2="1174.4" y2="1984.6" stroke-width="3.9" stroke-linecap="butt"/>
<line x1="1243" y1="1909" x2="1243" y2="1983.9" stroke-width="3.6" stroke-linecap="butt"/>
<line x1="1228" y1="1909" x2="1258" y2="1909" stroke-width="3.9" stroke-linecap="butt"/>
<line x1="1228" y1="1983.9" x2="1258" y2="1983.9" stroke-width="3.9" stroke-linecap="butt"/>
<line x1="1326.7" y1="1910.4" x2="1326.7" y2="1985.2" stroke-width="3.6" stroke-linecap="butt"/>
<line x1="1311.7" y1="1910.4" x2="1341.7" y2="1910.4" stroke-width="3.9" stroke-linecap="butt"/>
<line x1="1311.7" y1="1985.2" x2="1341.7" y2="1985.2" stroke-width="3.9" stroke-linecap="butt"/>
<line x1="1410.4" y1="1909" x2="1410.4" y2="1982.5" stroke-width="3.6" stroke-linecap="butt"/>
<line x1="1395.4" y1="1909" x2="1425.4" y2="1909" stroke-width="3.9" stroke-linecap="butt"/>
<line x1="1395.4" y1="1982.5" x2="1425.4" y2="1982.5" stroke-width="3.9" stroke-linecap="butt"/>
<line x1="1494.1" y1="1909" x2="1494.1" y2="1982.5" stroke-width="3.6" stroke-linecap="butt"/>
<line x1="1479.1" y1="1909" x2="1509.1" y2="1909" stroke-width="3.9" stroke-linecap="butt"/>
<line x1="1479.1" y1="1982.5" x2="1509.1" y2="1982.5" stroke-width="3.9" stroke-linecap="butt"/>
<line x1="1577.8" y1="1877.9" x2="1577.8" y2="1966.5" stroke-width="3.6" stroke-linecap="butt"/>
<line x1="1562.8" y1="1877.9" x2="1592.8" y2="1877.9" stroke-width="3.9" stroke-linecap="butt"/>
<line x1="1562.8" y1="1966.5" x2="1592.8" y2="1966.5" stroke-width="3.9" stroke-linecap="butt"/>
<rect x="306.1" y="1603.6" width="33" height="33"/>
<rect x="389.7" y="1560" width="33" height="33"/>
<rect x="473.4" y="1542.6" width="33" height="33"/>
<rect x="506.9" y="1569.7" width="33" height="33"/>
<rect x="532" y="1539.2" width="33" height="33"/>
<rect x="557.1" y="1460.9" width="33" height="33"/>
<rect x="565.5" y="2031.1" width="33" height="33"/>
<rect x="573.8" y="2031.8" width="33" height="33"/>
<rect x="590.6" y="1982.6" width="33" height="33"/>
<rect x="640.8" y="1907.1" width="33" height="33"/>
<rect x="724.5" y="1887.7" width="33" height="33"/>
<rect x="808.1" y="1892.5" width="33" height="33"/>
<rect x="891.8" y="1911.9" width="33" height="33"/>
<rect x="975.5" y="1921.6" width="33" height="33"/>
<rect x="1059.2" y="1921.6" width="33" height="33"/>
<rect x="1142.9" y="1930" width="33" height="33"/>
<rect x="1226.5" y="1930" width="33" height="33"/>
<rect x="1310.2" y="1931.3" width="33" height="33"/>
<rect x="1393.9" y="1929.3" width="33" height="33"/>
<rect x="1477.6" y="1929.3" width="33" height="33"/>
<rect x="1561.3" y="1905.7" width="33" height="33"/>
<rect x="274" y="1282" width="1355" height="970" fill="none" stroke-width="5.8"/>
</g>
<g id="panelC">
<line x1="258.5" y1="3513" x2="275" y2="3513" stroke-width="5.8" stroke-linecap="butt"/>
<line x1="258.5" y1="3374.7" x2="275" y2="3374.7" stroke-width="5.8" stroke-linecap="butt"/>
<line x1="258.5" y1="3236.4" x2="275" y2="3236.4" stroke-width="5.8" stroke-linecap="butt"/>
<line x1="258.5" y1="3098.1" x2="275" y2="3098.1" stroke-width="5.8" stroke-linecap="butt"/>
<line x1="258.5" y1="2959.9" x2="275" y2="2959.9" stroke-width="5.8" stroke-linecap="butt"/>
<line x1="258.5" y1="2821.6" x2="275" y2="2821.6" stroke-width="5.8" stroke-linecap="butt"/>
<line x1="258.5" y1="2683.3" x2="275" y2="2683.3" stroke-width="5.8" stroke-linecap="butt"/>
<line x1="258.5" y1="2545" x2="275" y2="2545" stroke-width="5.8" stroke-linecap="butt"/>
<text x="236.8" y="3534.5" font-size="60" text-anchor="end">0</text>
<text x="236.8" y="3396.2" font-size="60" text-anchor="end">20</text>
<text x="236.8" y="3257.9" font-size="60" text-anchor="end">40</text>
<text x="236.8" y="3119.6" font-size="60" text-anchor="end">60</text>
<text x="236.8" y="2981.4" font-size="60" text-anchor="end">80</text>
<text x="236.8" y="2843.1" font-size="60" text-anchor="end">100</text>
<text x="236.8" y="2704.8" font-size="60" text-anchor="end">120</text>
<text x="236.8" y="2566.5" font-size="60" text-anchor="end">140</text>
<line x1="336" y1="3513" x2="336" y2="3530" stroke-width="5.6" stroke-linecap="butt"/>
<line x1="643.9" y1="3513" x2="643.9" y2="3530" stroke-width="5.6" stroke-linecap="butt"/>
<line x1="951.9" y1="3513" x2="951.9" y2="3530" stroke-width="5.6" stroke-linecap="butt"/>
<line x1="1259.8" y1="3513" x2="1259.8" y2="3530" stroke-width="5.6" stroke-linecap="butt"/>
<line x1="1567.8" y1="3513" x2="1567.8" y2="3530" stroke-width="5.6" stroke-linecap="butt"/>
<text x="269.2" y="3598.2" font-size="60">&#8211;<tspan dx="4.5">10</tspan></text>
<text x="600.2" y="3598.2" font-size="60">&#8211;<tspan dx="4.5">5</tspan></text>
<text x="949.3" y="3598.2" font-size="60" text-anchor="middle">0</text>
<text x="1261" y="3598.2" font-size="60" text-anchor="middle">5</text>
<text x="1577" y="3598.2" font-size="60" text-anchor="middle">10</text>
<text x="546.8" y="3687.1" font-size="58.6">Time after electric pulses (min)</text>
<text transform="translate(54.2,3027.9) rotate(-90)" font-size="58.6" text-anchor="middle">Relative blood flow (%)</text>
<text x="-5.7" y="2580.6" font-size="86" font-weight="bold">C</text>
<text x="639" y="2603.2" font-size="60" text-anchor="middle">1</text>
<text x="759.8" y="2603.2" font-size="60" text-anchor="middle">2</text>
<text x="857.1" y="2603.2" font-size="60" text-anchor="middle">3</text>
<text x="952.9" y="2603.2" font-size="60" text-anchor="middle">4</text>
<clipPath id="clipC"><rect x="275" y="2545" width="1355" height="968"/></clipPath>
<g clip-path="url(#clipC)">
<polyline fill="none" stroke-width="3.5" stroke-linejoin="round" points="28,2937 336,2883.8 643.9,2821.6 767.1,2833.3 859.5,2832.6 951.9,2822.3 982.7,2823.6 1013.5,2825 1075.1,2830.6 1259.8,2804.3 1567.8,2791.8 1875.8,2731.7"/>
<line x1="28" y1="2912.8" x2="28" y2="2961.2" stroke-width="3.6" stroke-linecap="butt"/>
<line x1="13" y1="2912.8" x2="43" y2="2912.8" stroke-width="3.9" stroke-linecap="butt"/>
<line x1="13" y1="2961.2" x2="43" y2="2961.2" stroke-width="3.9" stroke-linecap="butt"/>
<line x1="767.1" y1="2805.7" x2="767.1" y2="2861" stroke-width="3.6" stroke-linecap="butt"/>
<line x1="752.1" y1="2805.7" x2="782.1" y2="2805.7" stroke-width="3.9" stroke-linecap="butt"/>
<line x1="752.1" y1="2861" x2="782.1" y2="2861" stroke-width="3.9" stroke-linecap="butt"/>
<line x1="859.5" y1="2793.9" x2="859.5" y2="2871.4" stroke-width="3.6" stroke-linecap="butt"/>
<line x1="844.5" y1="2793.9" x2="874.5" y2="2793.9" stroke-width="3.9" stroke-linecap="butt"/>
<line x1="844.5" y1="2871.4" x2="874.5" y2="2871.4" stroke-width="3.9" stroke-linecap="butt"/>
<line x1="951.9" y1="2784.9" x2="951.9" y2="2859.6" stroke-width="3.6" stroke-linecap="butt"/>
<line x1="936.9" y1="2784.9" x2="966.9" y2="2784.9" stroke-width="3.9" stroke-linecap="butt"/>
<line x1="936.9" y1="2859.6" x2="966.9" y2="2859.6" stroke-width="3.9" stroke-linecap="butt"/>
<line x1="982.7" y1="2788.4" x2="982.7" y2="2858.9" stroke-width="3.6" stroke-linecap="butt"/>
<line x1="967.7" y1="2788.4" x2="997.7" y2="2788.4" stroke-width="3.9" stroke-linecap="butt"/>
<line x1="967.7" y1="2858.9" x2="997.7" y2="2858.9" stroke-width="3.9" stroke-linecap="butt"/>
<line x1="1013.5" y1="2791.8" x2="1013.5" y2="2858.2" stroke-width="3.6" stroke-linecap="butt"/>
<line x1="998.5" y1="2791.8" x2="1028.5" y2="2791.8" stroke-width="3.9" stroke-linecap="butt"/>
<line x1="998.5" y1="2858.2" x2="1028.5" y2="2858.2" stroke-width="3.9" stroke-linecap="butt"/>
<line x1="1075.1" y1="2790.5" x2="1075.1" y2="2870.7" stroke-width="3.6" stroke-linecap="butt"/>
<line x1="1060.1" y1="2790.5" x2="1090.1" y2="2790.5" stroke-width="3.9" stroke-linecap="butt"/>
<line x1="1060.1" y1="2870.7" x2="1090.1" y2="2870.7" stroke-width="3.9" stroke-linecap="butt"/>
<line x1="1259.8" y1="2763.5" x2="1259.8" y2="2845.1" stroke-width="3.6" stroke-linecap="butt"/>
<line x1="1244.8" y1="2763.5" x2="1274.8" y2="2763.5" stroke-width="3.9" stroke-linecap="butt"/>
<line x1="1244.8" y1="2845.1" x2="1274.8" y2="2845.1" stroke-width="3.9" stroke-linecap="butt"/>
<line x1="1567.8" y1="2753.8" x2="1567.8" y2="2829.9" stroke-width="3.6" stroke-linecap="butt"/>
<line x1="1552.8" y1="2753.8" x2="1582.8" y2="2753.8" stroke-width="3.9" stroke-linecap="butt"/>
<line x1="1552.8" y1="2829.9" x2="1582.8" y2="2829.9" stroke-width="3.9" stroke-linecap="butt"/>
<line x1="1875.8" y1="2685.4" x2="1875.8" y2="2778" stroke-width="3.6" stroke-linecap="butt"/>
<line x1="1860.8" y1="2685.4" x2="1890.8" y2="2685.4" stroke-width="3.9" stroke-linecap="butt"/>
<line x1="1860.8" y1="2778" x2="1890.8" y2="2778" stroke-width="3.9" stroke-linecap="butt"/>
<path d="M28,2914.6 L46.8,2948.2 L9.2,2948.2 Z"/>
<path d="M336,2861.4 L354.8,2895 L317.2,2895 Z"/>
<path d="M643.9,2799.2 L662.7,2832.8 L625.1,2832.8 Z"/>
<path d="M767.1,2810.9 L785.9,2844.5 L748.3,2844.5 Z"/>
<path d="M859.5,2810.2 L878.3,2843.8 L840.7,2843.8 Z"/>
<path d="M951.9,2799.9 L970.7,2833.5 L933.1,2833.5 Z"/>
<path d="M982.7,2801.2 L1001.5,2834.8 L963.9,2834.8 Z"/>
<path d="M1013.5,2802.6 L1032.3,2836.2 L994.7,2836.2 Z"/>
<path d="M1075.1,2808.2 L1093.9,2841.8 L1056.3,2841.8 Z"/>
<path d="M1259.8,2781.9 L1278.6,2815.5 L1241,2815.5 Z"/>
<path d="M1567.8,2769.4 L1586.6,2803 L1549,2803 Z"/>
<path d="M1875.8,2709.3 L1894.5,2742.9 L1857,2742.9 Z"/>
<polyline fill="none" stroke-width="3.5" stroke-linejoin="round" points="28,2854.1 336,2842.3 643.9,2821.6 767.1,2811.2 859.5,2826.4 951.9,2732.4 982.7,2875.5 1013.5,2873.4 1075.1,2881 1259.8,2861.7 1567.8,2837.5 1875.8,2814"/>
<line x1="28" y1="2823.6" x2="28" y2="2884.5" stroke-width="3.6" stroke-linecap="butt"/>
<line x1="13" y1="2823.6" x2="43" y2="2823.6" stroke-width="3.9" stroke-linecap="butt"/>
<line x1="13" y1="2884.5" x2="43" y2="2884.5" stroke-width="3.9" stroke-linecap="butt"/>
<line x1="767.1" y1="2778.7" x2="767.1" y2="2843.7" stroke-width="3.6" stroke-linecap="butt"/>
<line x1="752.1" y1="2778.7" x2="782.1" y2="2778.7" stroke-width="3.9" stroke-linecap="butt"/>
<line x1="752.1" y1="2843.7" x2="782.1" y2="2843.7" stroke-width="3.9" stroke-linecap="butt"/>
<line x1="951.9" y1="2630" x2="951.9" y2="2834.7" stroke-width="3.6" stroke-linecap="butt"/>
<line x1="936.9" y1="2630" x2="966.9" y2="2630" stroke-width="3.9" stroke-linecap="butt"/>
<line x1="936.9" y1="2834.7" x2="966.9" y2="2834.7" stroke-width="3.9" stroke-linecap="butt"/>
<line x1="982.7" y1="2853.4" x2="982.7" y2="2897.6" stroke-width="3.6" stroke-linecap="butt"/>
<line x1="967.7" y1="2853.4" x2="997.7" y2="2853.4" stroke-width="3.9" stroke-linecap="butt"/>
<line x1="967.7" y1="2897.6" x2="997.7" y2="2897.6" stroke-width="3.9" stroke-linecap="butt"/>
<line x1="1013.5" y1="2849.2" x2="1013.5" y2="2897.6" stroke-width="3.6" stroke-linecap="butt"/>
<line x1="998.5" y1="2849.2" x2="1028.5" y2="2849.2" stroke-width="3.9" stroke-linecap="butt"/>
<line x1="998.5" y1="2897.6" x2="1028.5" y2="2897.6" stroke-width="3.9" stroke-linecap="butt"/>
<line x1="1075.1" y1="2856.8" x2="1075.1" y2="2905.2" stroke-width="3.6" stroke-linecap="butt"/>
<line x1="1060.1" y1="2856.8" x2="1090.1" y2="2856.8" stroke-width="3.9" stroke-linecap="butt"/>
<line x1="1060.1" y1="2905.2" x2="1090.1" y2="2905.2" stroke-width="3.9" stroke-linecap="butt"/>
<line x1="1259.8" y1="2832.6" x2="1259.8" y2="2890.7" stroke-width="3.6" stroke-linecap="butt"/>
<line x1="1244.8" y1="2832.6" x2="1274.8" y2="2832.6" stroke-width="3.9" stroke-linecap="butt"/>
<line x1="1244.8" y1="2890.7" x2="1274.8" y2="2890.7" stroke-width="3.9" stroke-linecap="butt"/>
<line x1="1567.8" y1="2807.7" x2="1567.8" y2="2867.2" stroke-width="3.6" stroke-linecap="butt"/>
<line x1="1552.8" y1="2807.7" x2="1582.8" y2="2807.7" stroke-width="3.9" stroke-linecap="butt"/>
<line x1="1552.8" y1="2867.2" x2="1582.8" y2="2867.2" stroke-width="3.9" stroke-linecap="butt"/>
<line x1="1875.8" y1="2778" x2="1875.8" y2="2849.9" stroke-width="3.6" stroke-linecap="butt"/>
<line x1="1860.8" y1="2778" x2="1890.8" y2="2778" stroke-width="3.9" stroke-linecap="butt"/>
<line x1="1860.8" y1="2849.9" x2="1890.8" y2="2849.9" stroke-width="3.9" stroke-linecap="butt"/>
<circle cx="28" cy="2854.1" r="17.5"/>
<circle cx="336" cy="2842.3" r="17.5"/>
<circle cx="643.9" cy="2821.6" r="17.5"/>
<circle cx="767.1" cy="2811.2" r="17.5"/>
<circle cx="859.5" cy="2826.4" r="17.5"/>
<circle cx="951.9" cy="2732.4" r="17.5"/>
<circle cx="982.7" cy="2875.5" r="17.5"/>
<circle cx="1013.5" cy="2873.4" r="17.5"/>
<circle cx="1075.1" cy="2881" r="17.5"/>
<circle cx="1259.8" cy="2861.7" r="17.5"/>
<circle cx="1567.8" cy="2837.5" r="17.5"/>
<circle cx="1875.8" cy="2814" r="17.5"/>
<polyline fill="none" stroke-width="3.5" stroke-linejoin="round" points="28,2899.7 336,2852.7 643.9,2821.6 767.1,2803.6 859.5,2852 951.9,2683.3 982.7,3369.2 1013.5,3362.3 1075.1,3338.8 1259.8,3295.9 1567.8,3239.9 1875.8,3259.9"/>
<line x1="767.1" y1="2773.9" x2="767.1" y2="2833.3" stroke-width="3.6" stroke-linecap="butt"/>
<line x1="752.1" y1="2773.9" x2="782.1" y2="2773.9" stroke-width="3.9" stroke-linecap="butt"/>
<line x1="752.1" y1="2833.3" x2="782.1" y2="2833.3" stroke-width="3.9" stroke-linecap="butt"/>
<line x1="859.5" y1="2814.7" x2="859.5" y2="2889.3" stroke-width="3.6" stroke-linecap="butt"/>
<line x1="844.5" y1="2814.7" x2="874.5" y2="2814.7" stroke-width="3.9" stroke-linecap="butt"/>
<line x1="844.5" y1="2889.3" x2="874.5" y2="2889.3" stroke-width="3.9" stroke-linecap="butt"/>
<line x1="951.9" y1="2609.3" x2="951.9" y2="2757.3" stroke-width="3.6" stroke-linecap="butt"/>
<line x1="936.9" y1="2609.3" x2="966.9" y2="2609.3" stroke-width="3.9" stroke-linecap="butt"/>
<line x1="936.9" y1="2757.3" x2="966.9" y2="2757.3" stroke-width="3.9" stroke-linecap="butt"/>
<line x1="982.7" y1="3350.5" x2="982.7" y2="3387.9" stroke-width="3.6" stroke-linecap="butt"/>
<line x1="967.7" y1="3350.5" x2="997.7" y2="3350.5" stroke-width="3.9" stroke-linecap="butt"/>
<line x1="967.7" y1="3387.9" x2="997.7" y2="3387.9" stroke-width="3.9" stroke-linecap="butt"/>
<line x1="1013.5" y1="3339.5" x2="1013.5" y2="3385.1" stroke-width="3.6" stroke-linecap="butt"/>
<line x1="998.5" y1="3339.5" x2="1028.5" y2="3339.5" stroke-width="3.9" stroke-linecap="butt"/>
<line x1="998.5" y1="3385.1" x2="1028.5" y2="3385.1" stroke-width="3.9" stroke-linecap="butt"/>
<line x1="1075.1" y1="3312.1" x2="1075.1" y2="3365.4" stroke-width="3.6" stroke-linecap="butt"/>
<line x1="1060.1" y1="3312.1" x2="1090.1" y2="3312.1" stroke-width="3.9" stroke-linecap="butt"/>
<line x1="1060.1" y1="3365.4" x2="1090.1" y2="3365.4" stroke-width="3.9" stroke-linecap="butt"/>
<line x1="1259.8" y1="3265.5" x2="1259.8" y2="3326.3" stroke-width="3.6" stroke-linecap="butt"/>
<line x1="1244.8" y1="3265.5" x2="1274.8" y2="3265.5" stroke-width="3.9" stroke-linecap="butt"/>
<line x1="1244.8" y1="3326.3" x2="1274.8" y2="3326.3" stroke-width="3.9" stroke-linecap="butt"/>
<line x1="1567.8" y1="3197" x2="1567.8" y2="3282.8" stroke-width="3.6" stroke-linecap="butt"/>
<line x1="1552.8" y1="3197" x2="1582.8" y2="3197" stroke-width="3.9" stroke-linecap="butt"/>
<line x1="1552.8" y1="3282.8" x2="1582.8" y2="3282.8" stroke-width="3.9" stroke-linecap="butt"/>
<line x1="1875.8" y1="3222.6" x2="1875.8" y2="3297.3" stroke-width="3.6" stroke-linecap="butt"/>
<line x1="1860.8" y1="3222.6" x2="1890.8" y2="3222.6" stroke-width="3.9" stroke-linecap="butt"/>
<line x1="1860.8" y1="3297.3" x2="1890.8" y2="3297.3" stroke-width="3.9" stroke-linecap="butt"/>
<circle cx="28" cy="2899.7" r="15.7" fill="#fff" stroke-width="3.6"/>
<circle cx="336" cy="2852.7" r="15.7" fill="#fff" stroke-width="3.6"/>
<circle cx="643.9" cy="2821.6" r="15.7" fill="#fff" stroke-width="3.6"/>
<circle cx="767.1" cy="2803.6" r="15.7" fill="#fff" stroke-width="3.6"/>
<circle cx="859.5" cy="2852" r="15.7" fill="#fff" stroke-width="3.6"/>
<circle cx="951.9" cy="2683.3" r="15.7" fill="#fff" stroke-width="3.6"/>
<circle cx="982.7" cy="3369.2" r="15.7" fill="#fff" stroke-width="3.6"/>
<circle cx="1013.5" cy="3362.3" r="15.7" fill="#fff" stroke-width="3.6"/>
<circle cx="1075.1" cy="3338.8" r="15.7" fill="#fff" stroke-width="3.6"/>
<circle cx="1259.8" cy="3295.9" r="15.7" fill="#fff" stroke-width="3.6"/>
<circle cx="1567.8" cy="3239.9" r="15.7" fill="#fff" stroke-width="3.6"/>
<circle cx="1875.8" cy="3259.9" r="15.7" fill="#fff" stroke-width="3.6"/>
<polyline fill="none" stroke-width="3.5" stroke-linejoin="round" points="28,2882.4 336,2838.9 643.9,2821.6 767.1,2848.5 859.5,2818.1 951.9,2740 982.7,3309 1013.5,3309.7 1075.1,3260.6 1259.8,3185.3 1567.8,3165.9 1875.8,3170.7"/>
<line x1="767.1" y1="2814" x2="767.1" y2="2883.1" stroke-width="3.6" stroke-linecap="butt"/>
<line x1="752.1" y1="2814" x2="782.1" y2="2814" stroke-width="3.9" stroke-linecap="butt"/>
<line x1="752.1" y1="2883.1" x2="782.1" y2="2883.1" stroke-width="3.9" stroke-linecap="butt"/>
<line x1="859.5" y1="2773.2" x2="859.5" y2="2863.1" stroke-width="3.6" stroke-linecap="butt"/>
<line x1="844.5" y1="2773.2" x2="874.5" y2="2773.2" stroke-width="3.9" stroke-linecap="butt"/>
<line x1="844.5" y1="2863.1" x2="874.5" y2="2863.1" stroke-width="3.9" stroke-linecap="butt"/>
<line x1="951.9" y1="2664.6" x2="951.9" y2="2815.3" stroke-width="3.6" stroke-linecap="butt"/>
<line x1="936.9" y1="2664.6" x2="966.9" y2="2664.6" stroke-width="3.9" stroke-linecap="butt"/>
<line x1="936.9" y1="2815.3" x2="966.9" y2="2815.3" stroke-width="3.9" stroke-linecap="butt"/>
<line x1="982.7" y1="3275.8" x2="982.7" y2="3342.2" stroke-width="3.6" stroke-linecap="butt"/>
<line x1="967.7" y1="3275.8" x2="997.7" y2="3275.8" stroke-width="3.9" stroke-linecap="butt"/>
<line x1="967.7" y1="3342.2" x2="997.7" y2="3342.2" stroke-width="3.9" stroke-linecap="butt"/>
<line x1="1013.5" y1="3280.7" x2="1013.5" y2="3338.8" stroke-width="3.6" stroke-linecap="butt"/>
<line x1="998.5" y1="3280.7" x2="1028.5" y2="3280.7" stroke-width="3.9" stroke-linecap="butt"/>
<line x1="998.5" y1="3338.8" x2="1028.5" y2="3338.8" stroke-width="3.9" stroke-linecap="butt"/>
<line x1="1075.1" y1="3231.6" x2="1075.1" y2="3289.7" stroke-width="3.6" stroke-linecap="butt"/>
<line x1="1060.1" y1="3231.6" x2="1090.1" y2="3231.6" stroke-width="3.9" stroke-linecap="butt"/>
<line x1="1060.1" y1="3289.7" x2="1090.1" y2="3289.7" stroke-width="3.9" stroke-linecap="butt"/>
<line x1="1259.8" y1="3142.4" x2="1259.8" y2="3228.1" stroke-width="3.6" stroke-linecap="butt"/>
<line x1="1244.8" y1="3142.4" x2="1274.8" y2="3142.4" stroke-width="3.9" stroke-linecap="butt"/>
<line x1="1244.8" y1="3228.1" x2="1274.8" y2="3228.1" stroke-width="3.9" stroke-linecap="butt"/>
<line x1="1567.8" y1="3118.2" x2="1567.8" y2="3213.6" stroke-width="3.6" stroke-linecap="butt"/>
<line x1="1552.8" y1="3118.2" x2="1582.8" y2="3118.2" stroke-width="3.9" stroke-linecap="butt"/>
<line x1="1552.8" y1="3213.6" x2="1582.8" y2="3213.6" stroke-width="3.9" stroke-linecap="butt"/>
<line x1="1875.8" y1="3118.9" x2="1875.8" y2="3222.6" stroke-width="3.6" stroke-linecap="butt"/>
<line x1="1860.8" y1="3118.9" x2="1890.8" y2="3118.9" stroke-width="3.9" stroke-linecap="butt"/>
<line x1="1860.8" y1="3222.6" x2="1890.8" y2="3222.6" stroke-width="3.9" stroke-linecap="butt"/>
<rect x="11.5" y="2865.9" width="33" height="33"/>
<rect x="319.5" y="2822.4" width="33" height="33"/>
<rect x="627.4" y="2805.1" width="33" height="33"/>
<rect x="750.6" y="2832" width="33" height="33"/>
<rect x="843" y="2801.6" width="33" height="33"/>
<rect x="935.4" y="2723.5" width="33" height="33"/>
<rect x="966.2" y="3292.5" width="33" height="33"/>
<rect x="997" y="3293.2" width="33" height="33"/>
<rect x="1058.6" y="3244.1" width="33" height="33"/>
<rect x="1243.3" y="3168.8" width="33" height="33"/>
<rect x="1551.3" y="3149.4" width="33" height="33"/>
<rect x="1859.2" y="3154.2" width="33" height="33"/>
</g>
<circle cx="349" cy="3271.5" r="17.5"/>
<path d="M350.5,3314.1 L369.3,3347.7 L331.7,3347.7 Z"/>
<circle cx="349" cy="3398.5" r="15.7" fill="#fff" stroke-width="3.6"/>
<rect x="332.5" y="3448" width="33" height="33"/>
<text x="391.4" y="3290.1" font-size="55">Control (<tspan font-style="italic">n</tspan>=13)</text>
<text x="391.4" y="3352.8" font-size="55">Bleomycin (<tspan font-style="italic">n</tspan>=17)</text>
<text x="391.4" y="3415.1" font-size="55">Electric pulses (<tspan font-style="italic">n</tspan>=14)</text>
<text x="391.4" y="3479.5" font-size="55">Electrochemotherapy (<tspan font-style="italic">n</tspan>=13)</text>
<rect x="275" y="2545" width="1355" height="968" fill="none" stroke-width="5.8"/>
</g>
</svg>
</body></html>
